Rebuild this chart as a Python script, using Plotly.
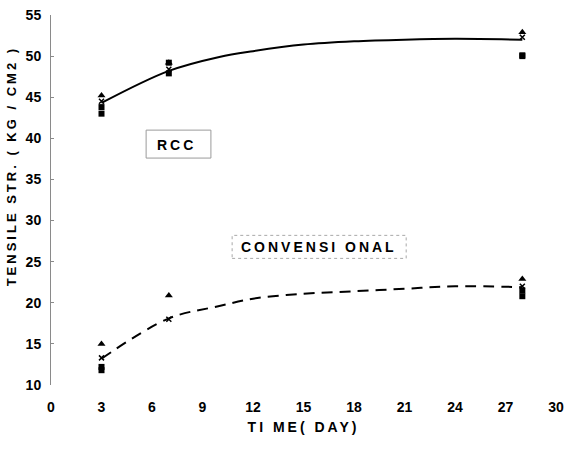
import plotly.graph_objects as go

# Test ages (days)
days = [3, 7, 28]

# RCC specimens, tensile strength (kg/cm2)
rcc_tri = [45.2, 49.2, 52.9]
rcc_x = [44.5, 48.4, 52.3]
rcc_sq1 = [43.8, 49.2, 50.1]
rcc_sq2 = [43.0, 47.9, 50.0]

# Conventional concrete specimens
conv_tri = [15.0, 20.9, 22.9]
conv_x = [13.3, 18.0, 22.0]
conv_sq1 = [12.2, None, 21.5]
conv_sq2 = [11.8, None, 20.8]

# Trend curves
curve_days = [3, 7, 10, 12, 15, 18, 21, 24, 28]
rcc_curve = [44.3, 48.2, 49.9, 50.6, 51.4, 51.8, 52.0, 52.1, 52.0]
conv_curve = [13.2, 18.1, 19.6, 20.5, 21.1, 21.4, 21.7, 22.0, 21.9]

x_ticks = [0, 3, 6, 9, 12, 15, 18, 21, 24, 27, 30]
y_ticks = [10, 15, 20, 25, 30, 35, 40, 45, 50, 55]

BOLD = "Liberation Sans, Arial, sans-serif"


def spaced(text, px=3):
    return f'<span style="letter-spacing:{px}px">{text}</span>'


fig = go.Figure()

# trend lines
fig.add_trace(go.Scatter(x=curve_days, y=rcc_curve, mode="lines",
                         line=dict(color="black", width=2, shape="spline"),
                         hoverinfo="skip"))
fig.add_trace(go.Scatter(x=curve_days, y=conv_curve, mode="lines",
                         line=dict(color="black", width=2, shape="spline", dash="11px,7px"),
                         hoverinfo="skip"))

# specimen markers
for ys in (rcc_tri, conv_tri):
    fig.add_trace(go.Scatter(x=days, y=ys, mode="markers",
                             marker=dict(symbol="triangle-up", size=7, color="black")))
for ys in (rcc_sq1, rcc_sq2, conv_sq1, conv_sq2):
    fig.add_trace(go.Scatter(x=days, y=ys, mode="markers",
                             marker=dict(symbol="square", size=6, color="black")))
for ys in (rcc_x, conv_x):
    fig.add_trace(go.Scatter(x=days, y=ys, mode="markers",
                             marker=dict(symbol="x-thin-open", size=5, color="black",
                                         line=dict(color="black", width=1.5))))

# labelled boxes
fig.add_shape(type="rect", x0=5.65, x1=9.5, y0=37.6, y1=41.0,
              line=dict(color="#9a9a9a", width=1))
fig.add_shape(type="rect", x0=10.76, x1=21.1, y0=25.4, y1=28.2,
              line=dict(color="#a8a8a8", width=1, dash="dot"))
fig.add_annotation(x=7.47, y=39.2, text=spaced("RCC"), showarrow=False,
                   font=dict(family=BOLD, size=14, color="black", weight="bold"))
fig.add_annotation(x=15.94, y=26.8, text=spaced("CONVENSI ONAL"), showarrow=False,
                   font=dict(family=BOLD, size=14, color="black", weight="bold"))

# y-axis title
fig.add_annotation(xref="paper", yref="paper", x=-0.0765, y=0.592,
                   text=spaced("TENSILE STR. ( KG / CM2 )"), textangle=-90,
                   showarrow=False, xanchor="center", yanchor="middle",
                   font=dict(family=BOLD, size=13, color="black", weight="bold"))

fig.update_layout(
    width=571, height=452,
    margin=dict(l=51, r=7, t=15, b=67),
    paper_bgcolor="white", plot_bgcolor="white",
    showlegend=False,
    xaxis=dict(range=[0, 30], tickvals=x_ticks, ticktext=[str(v) for v in x_ticks],
               showgrid=False, zeroline=False, showline=False, ticks="",
               ticklabelstandoff=12, ticklabeloverflow="allow",
               tickfont=dict(family=BOLD, size=14, color="black", weight="bold"),
               title=dict(text=spaced("TI ME( DAY)"), standoff=8,
                          font=dict(family=BOLD, size=14, color="black", weight="bold"))),
    yaxis=dict(range=[10, 55], tickvals=y_ticks, ticktext=[str(v) for v in y_ticks],
               showgrid=False, zeroline=False, showline=True, linecolor="#8a8a8a",
               linewidth=1, ticks="inside", ticklen=3, tickcolor="#8a8a8a",
               ticklabelstandoff=6,
               tickfont=dict(family=BOLD, size=14, color="black", weight="bold")),
)

fig.write_html("out.html")
